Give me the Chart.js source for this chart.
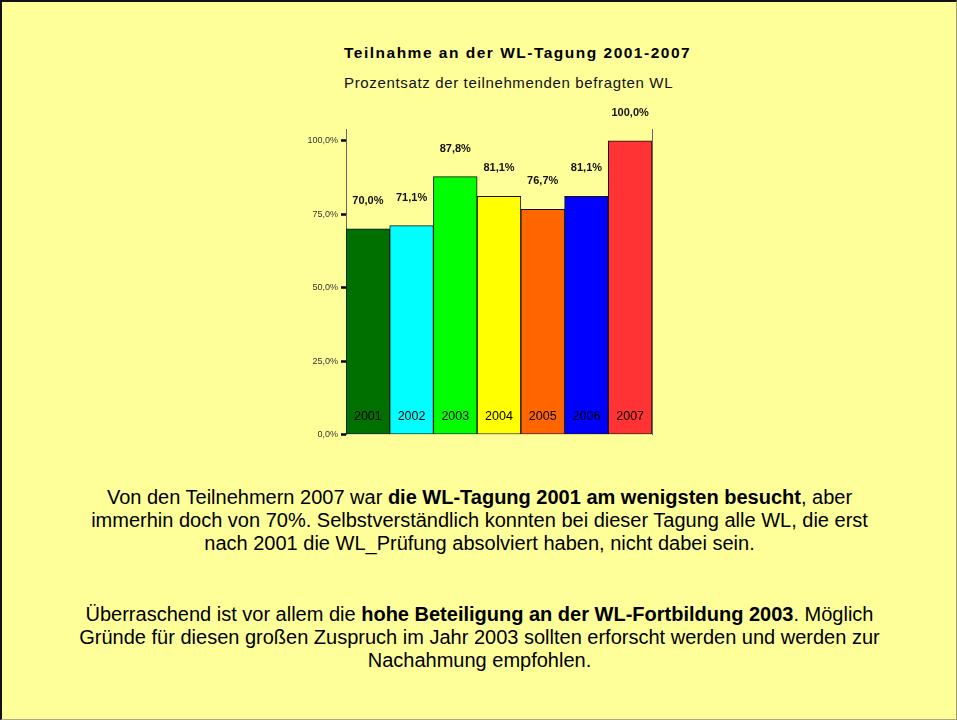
<!DOCTYPE html>
<html>
<head>
<meta charset="utf-8">
<script src="https://cdn.jsdelivr.net/npm/chart.js@4"></script>
<style>
  html, body { margin: 0; padding: 0; }
  body { width: 957px; height: 720px; overflow: hidden; font-family: "Liberation Sans", Arial, sans-serif; }
  #page {
    position: relative; width: 957px; height: 720px; box-sizing: border-box;
    background: #FFFF99;
    border-top: 2px solid #111; border-left: 2px solid #111;
    border-right: 1px solid #99996a; border-bottom: 1px solid #aaa98a;
  }
  .title { position: absolute; left: 342px; top: 43px; font-size: 15.5px; line-height: 15.5px; font-weight: bold; letter-spacing: 1.5px; color: #000; white-space: nowrap; }
  .subtitle { position: absolute; left: 342px; top: 73px; font-size: 15px; line-height: 15px; letter-spacing: 0.65px; color: #111; white-space: nowrap; }
  #chartBox { position: absolute; left: 286px; top: 91px; width: 380px; height: 350px; }
  .para { position: absolute; left: 0; width: 955px; text-align: center; font-size: 20px; line-height: 23px; color: #000; }
</style>
</head>
<body>
<div id="page">
  <div class="title">Teilnahme an der WL-Tagung 2001-2007</div>
  <div class="subtitle">Prozentsatz der teilnehmenden befragten WL</div>
  <div id="chartBox"><canvas id="bars" width="380" height="350"></canvas></div>
  <div class="para" style="top:484px">Von den Teilnehmern 2007 war <b>die WL-Tagung 2001 am wenigsten besucht</b>, aber<br>immerhin doch von 70%. Selbstverständlich konnten bei dieser Tagung alle WL, die erst<br>nach 2001 die WL_Prüfung absolviert haben, nicht dabei sein.</div>
  <div class="para" style="top:601px">Überraschend ist vor allem die <b>hohe Beteiligung an der WL-Fortbildung 2003</b>. Möglich<br>Gründe für diesen großen Zuspruch im Jahr 2003 sollten erforscht werden und werden zur<br>Nachahmung empfohlen.</div>
</div>
<script>
const years = ['2001', '2002', '2003', '2004', '2005', '2006', '2007'];
const shares = [70.0, 71.1, 87.8, 81.1, 76.7, 81.1, 100.0];
const barColors = ['#007000', '#00FFFF', '#00FF00', '#FFFF00', '#FF6600', '#0000FF', '#FF3333'];
const yTicks = [0, 25, 50, 75, 100];

const fmt = v => v.toFixed(1).replace('.', ',') + '%';

const labelPlugin = {
  id: 'barLabels',
  afterDatasetsDraw(chart) {
    const ctx = chart.ctx;
    const meta = chart.getDatasetMeta(0);
    const area = chart.chartArea;
    ctx.save();
    ctx.textAlign = 'center';
    ctx.textBaseline = 'middle';
    meta.data.forEach((bar, i) => {
      ctx.fillStyle = '#111';
      ctx.font = 'bold 11px "Liberation Sans", Arial, sans-serif';
      ctx.fillText(fmt(shares[i]), bar.x, bar.y - 28);
      ctx.fillStyle = '#000';
      ctx.font = '12.5px "Liberation Sans", Arial, sans-serif';
      ctx.fillText(years[i], bar.x, area.bottom - 18);
    });
    ctx.restore();
  }
};

const barsChart = new Chart(document.getElementById('bars'), {
  type: 'bar',
  data: {
    labels: years,
    datasets: [{
      data: shares,
      backgroundColor: barColors,
      borderColor: '#111',
      borderWidth: 1,
      borderSkipped: false,
      categoryPercentage: 1,
      barPercentage: 1
    }]
  },
  options: {
    responsive: false,
    animation: false,
    devicePixelRatio: 1,
    layout: { padding: { top: 36, bottom: 8 } },
    scales: {
      x: { display: false },
      y: {
        min: 0,
        max: 104,
        afterBuildTicks: scale => { scale.ticks = yTicks.map(v => ({ value: v })); },
        afterFit: scale => { scale.width = 58; },
        ticks: {
          callback: v => fmt(v),
          font: { size: 9, family: '"Liberation Sans", Arial, sans-serif' },
          color: '#333',
          padding: 3
        },
        grid: { drawOnChartArea: false, tickLength: 5, tickWidth: 2.5, tickColor: '#000' },
        border: { display: true, color: '#666', width: 1 }
      },
      y2: {
        position: 'right',
        min: 0,
        max: 104,
        afterFit: scale => { scale.width = 16; },
        ticks: { display: false },
        grid: { display: true, drawOnChartArea: false, drawTicks: false },
        border: { display: true, color: '#666', width: 1 }
      }
    },
    plugins: {
      legend: { display: false },
      tooltip: { enabled: false }
    }
  },
  plugins: [labelPlugin]
});
</script>
</body>
</html>
